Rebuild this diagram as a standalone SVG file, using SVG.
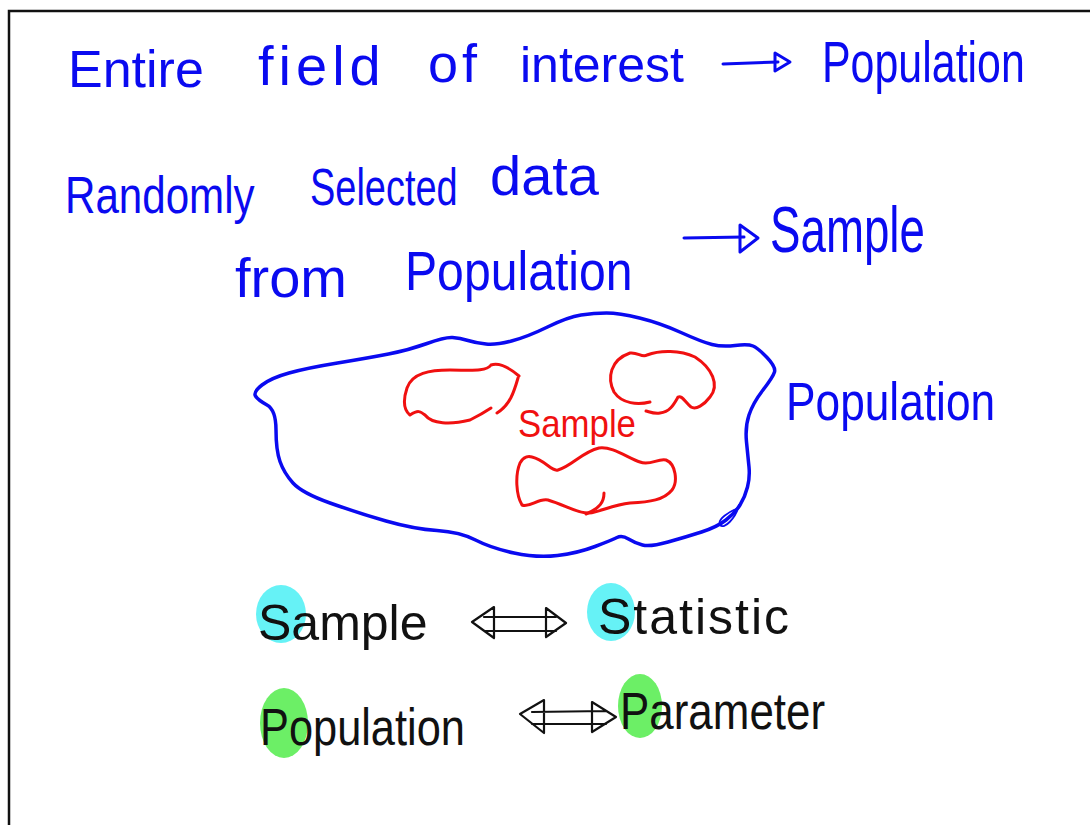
<svg xmlns="http://www.w3.org/2000/svg" width="1090" height="825" viewBox="0 0 1090 825">
<style>
.t{font-family:"Liberation Sans",Arial,sans-serif;font-weight:normal}
.b{fill:#0a0af0}
.r{fill:#f01010}
.k{fill:#111}
.sb{fill:none;stroke:#0a0af0;stroke-linecap:round;stroke-linejoin:round}
.sr{fill:none;stroke:#f01010;stroke-width:3;stroke-linecap:round;stroke-linejoin:round}
.sk{fill:none;stroke:#111;stroke-width:2.2;stroke-linecap:round;stroke-linejoin:round}
</style>
<rect width="1090" height="825" fill="#fff"/>
<path d="M9,825 V11 H1090" fill="none" stroke="#111" stroke-width="2.5"/>

<g id="line1">
<text class="t b" x="68" y="87" font-size="52">Entire</text>
<text class="t b" x="258" y="85" font-size="56" letter-spacing="5">field</text>
<text class="t b" x="428" y="82" font-size="54" letter-spacing="4">of</text>
<text class="t b" x="520" y="82" font-size="50">interest</text>
<text class="t b" transform="translate(822,82) scale(0.74,1)" font-size="58">Population</text>
</g>

<g id="line2">
<text class="t b" transform="translate(65,213) scale(0.81,1)" font-size="52">Randomly</text>
<text class="t b" transform="translate(310,205) scale(0.73,1)" font-size="52">Selected</text>
<text class="t b" x="490" y="195" font-size="56">data</text>
<text class="t b" x="235" y="297" font-size="56">from</text>
<text class="t b" transform="translate(405,290) scale(0.86,1)" font-size="56">Population</text>
<text class="t b" transform="translate(770,252) scale(0.714,1)" font-size="64">Sample</text>
</g>

<g id="population-blob">
<path class="sb" stroke-width="3.5" d="M255.5,396 Q253,392 262,385 Q271,378 289,373 Q307,368 337.5,363 Q368,358 388.5,354 Q409,350 427,343.5 Q445,337 452.5,337.5 Q460,338 468,340.5 Q476,343 486,344 Q496,345 511.5,341 Q527,337 547.5,327 Q568,317 581,315 Q594,313 606.5,313 Q619,313 639.5,318 Q660,323 681,332.5 Q702,342 712,344.5 Q722,347 735,345.5 Q748,344 753,346 Q758,348 767,357.5 Q776,367 774.5,372 Q773,377 763,390 Q753,403 749,415 Q745,427 746.5,442 Q748,457 749,467 Q750,477 747.5,487 Q745,497 740,505 Q735,513 726,520 Q717,527 701.5,532 Q686,537 668,542 Q650,547 642.5,545 Q635,543 628.5,539 Q622,535 617,537.5 Q612,540 595,546.5 Q578,553 557.5,555.5 Q537,558 514,553 Q491,548 475.5,540 Q460,532 437,530.5 Q414,529 386,521 Q358,513 330,503 Q302,493 293,483 Q284,473 280,461.5 Q276,450 276,430 Q276,410 267,405 Q258,400 255.5,396 Z"/>
<path class="sb" stroke-width="1.8" d="M739,505 C736,518 724,530 720,525 C717,519 729,512 738,508"/>
<text class="t b" transform="translate(786,420) scale(0.82,1)" font-size="54">Population</text>
</g>

<g id="samples">
<path class="sr" d="M519,376 C512,370 500,362 491,365 C486,372 470,370 450,370 C430,370 412,373 407,388 C403,400 404,410 410,415 C418,410 420,411 425,415 C432,424 450,425 470,420 C480,415 488,410 491,408"/>
<path class="sr" d="M518,378 C514,392 510,405 497,413"/>
<path class="sr" d="M650,402 C638,405 622,404 614,392 C607,378 610,360 630,353 C638,352 642,358 647,355 C660,350 680,350 695,357 C712,368 720,385 710,397 C704,405 696,410 691,407 C685,402 682,395 678,397 C674,404 670,412 660,413 C654,414 650,412 646,411"/>
<path class="sr" d="M532,457 C545,460 552,472 558,470 C572,466 582,452 599,448 C612,446 628,458 640,462 C650,466 658,458 666,460 C676,464 678,482 672,490 C664,500 650,502 630,503 C612,505 600,512 589,513 C578,514 565,505 548,500 C538,498 530,508 522,505 C516,495 515,475 520,463 C524,456 528,456 532,457"/>
<path class="sr" d="M604,493 C604,502 600,508 586,514"/>
<text class="t r" transform="translate(518,437) scale(0.916,1)" font-size="38">Sample</text>
</g>

<g id="sample-statistic">
<ellipse cx="281" cy="614" rx="25" ry="29" fill="#66f2f6"/>
<ellipse cx="611" cy="612" rx="24" ry="29" fill="#66f2f6"/>
<text class="t k" x="258" y="640" font-size="50">Sample</text>
<text class="t k" x="598" y="634" font-size="50" letter-spacing="2">Statistic</text>
</g>

<g id="population-parameter">
<ellipse cx="284" cy="723" rx="24" ry="35" fill="#6cef66"/>
<ellipse cx="640" cy="706" rx="22" ry="32" fill="#6cef66"/>
<text class="t k" transform="translate(260,745) scale(0.834,1)" font-size="52">Population</text>
<text class="t k" transform="translate(620,729) scale(0.845,1)" font-size="52">Parameter</text>
</g>

<g id="connectors">
<path class="sb" stroke-width="3" d="M723,64 L778,62"/>
<path class="sb" stroke-width="3" d="M775,53 L790,62 L775,71 Z"/>
<path class="sb" stroke-width="3" d="M684,238 L744,237"/>
<path class="sb" stroke-width="3" d="M740,225 L758,238 L740,252 Z"/>
<path class="sk" d="M494,607 L472,622 L494,638 Z M546,608 L566,623 L546,637 Z M484,617 L556,617 M484,631 L556,631"/>
<path class="sk" d="M544,700 L520,714 L544,733 Z M592,702 L616,717 L592,732 Z M532,712 L606,711 M532,724 L606,724"/>
</g>
</svg>
